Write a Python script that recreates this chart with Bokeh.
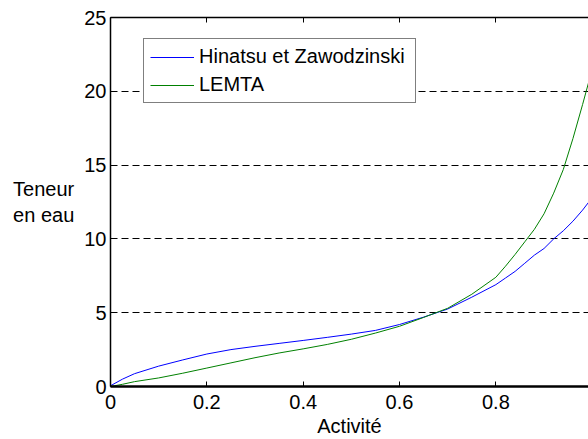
from bokeh.plotting import figure
from bokeh.models import (Range1d, FixedTicker, LinearAxis, NumeralTickFormatter,
                          CustomJSTickFormatter, Legend)
from bokeh.embed import file_html
from bokeh.resources import INLINE

# ---- data ----
activity = [0.0, 0.025, 0.05, 0.10, 0.15, 0.20, 0.25, 0.30, 0.35, 0.40, 0.45, 0.50,
            0.55, 0.60, 0.65, 0.70, 0.75, 0.80, 0.82, 0.84, 0.86, 0.88, 0.90,
            0.92, 0.94, 0.96, 0.98, 1.00]
hinatsu = [0.05, 0.50, 0.87, 1.38, 1.80, 2.20, 2.50, 2.72, 2.92, 3.12, 3.33, 3.55,
           3.80, 4.20, 4.70, 5.25, 6.05, 6.90, 7.35, 7.80, 8.35, 8.90, 9.35,
           10.00, 10.55, 11.20, 11.95, 12.80]
lemta = [0.0, 0.15, 0.33, 0.58, 0.90, 1.25, 1.60, 1.95, 2.27, 2.55, 2.85, 3.20,
         3.62, 4.08, 4.68, 5.30, 6.25, 7.40, 8.15, 8.95, 9.80, 10.65, 11.70,
         13.10, 14.70, 16.80, 19.10, 21.50]

series_names = ["Hinatsu et Zawodzinski", "LEMTA"]
x_ticks = [0, 0.2, 0.4, 0.6, 0.8, 1.0]
y_ticks = [0, 5, 10, 15, 20, 25]
grid_levels = [5, 10, 15, 20]
x_label = "Activité"
y_label = "Teneur\nen eau"

FONT = "Liberation Sans"
FS = "20px"

p = figure(width=588, height=439, output_backend="svg", toolbar_location=None,
           x_range=Range1d(0, 0.9923), y_range=Range1d(0, 25),
           min_border_left=110, min_border_right=0, min_border_top=17,
           min_border_bottom=52)
p.outline_line_color = None
p.background_fill_color = "white"
p.border_fill_color = "white"

# lines
r1 = p.line(activity, hinatsu, line_color="#0000ff", line_width=1)
r2 = p.line(activity, lemta, line_color="#008000", line_width=1)

# axes
xa = p.xaxis[0]
xa.ticker = FixedTicker(ticks=x_ticks)
xa.formatter = NumeralTickFormatter(format="0.[0]")
xa.axis_label = x_label
ya = p.yaxis[0]
ya.ticker = FixedTicker(ticks=y_ticks)
ya.axis_label = y_label
ya.axis_label_orientation = "horizontal"

for ax in (xa, ya):
    ax.major_tick_in = 5
    ax.major_tick_out = 0
    ax.minor_tick_in = 0
    ax.minor_tick_out = 0
    ax.major_tick_line_color = "black"
    ax.axis_line_color = "black"
    ax.major_label_text_font = FONT
    ax.major_label_text_font_size = FS
    ax.major_label_text_color = "black"
    ax.axis_label_text_font = FONT
    ax.axis_label_text_font_size = FS
    ax.axis_label_text_font_style = "normal"
    ax.axis_label_text_color = "black"

xa.axis_line_width = 2.5
xa.major_label_standoff = 8
xa.axis_label_standoff = 3
ya.axis_line_width = 1.5
ya.major_label_standoff = 4
ya.axis_label_standoff = 7
ya.axis_label_text_align = "right"

top = LinearAxis(ticker=FixedTicker(ticks=x_ticks),
                 formatter=CustomJSTickFormatter(code="return ''"),
                 major_tick_in=5, major_tick_out=0, minor_tick_in=0, minor_tick_out=0,
                 major_label_standoff=0, major_label_text_font_size="1px",
                 axis_line_width=1.5, axis_line_color="black")
p.add_layout(top, "above")

# grid
p.xgrid.visible = False
p.ygrid.ticker = FixedTicker(ticks=grid_levels)
p.ygrid.grid_line_color = "black"
p.ygrid.grid_line_dash = "7 4"
p.ygrid.grid_line_width = 1

# legend
legend = Legend(items=[(series_names[0], [r1]), (series_names[1], [r2])],
                location=(33, 283), margin=0, padding=6, spacing=5,
                label_height=20, glyph_height=20, glyph_width=44, label_standoff=5,
                label_width=210,
                label_text_font=FONT, label_text_font_size=FS, label_text_color="black",
                border_line_color="black", border_line_width=1,
                background_fill_color="white", background_fill_alpha=1.0)
p.add_layout(legend, "center")

open("out.html", "w").write(file_html(p, INLINE))
